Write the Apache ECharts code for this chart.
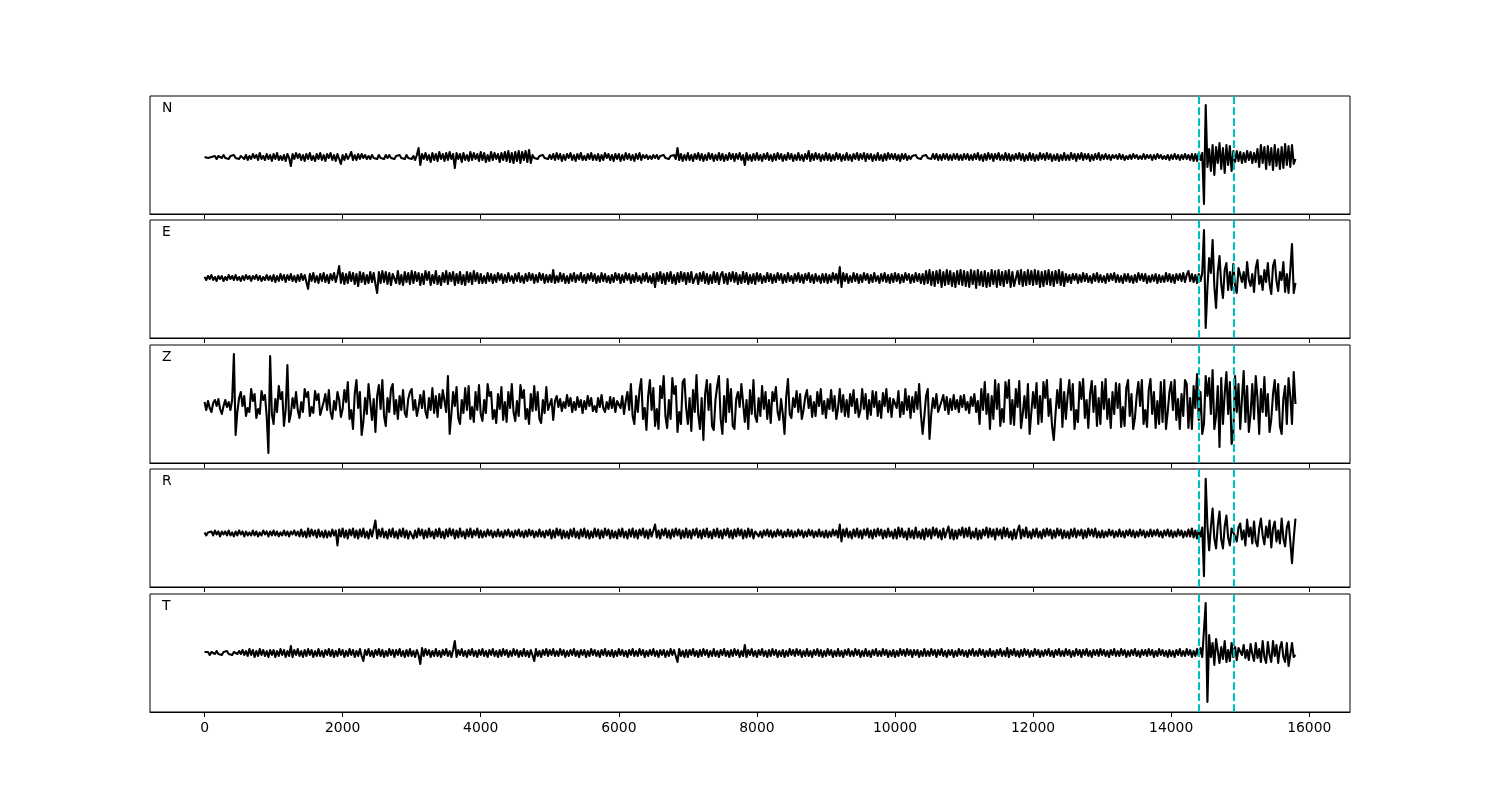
<!DOCTYPE html>
<html>
<head>
<meta charset="utf-8">
<script src="https://cdn.jsdelivr.net/npm/echarts@6/dist/echarts.min.js"></script>
<style>html,body{margin:0;padding:0;background:#fff}#c{width:1500px;height:800px}</style>
</head>
<body>
<div id="c"></div>
<script>
// sample spacing (x units) and tick labels
const step = 25;
const xTicks = [0, 2000, 4000, 6000, 8000, 10000, 12000, 14000, 16000];
const pickLines = [14400, 14900];
const channels = ['N', 'E', 'Z', 'R', 'T'];

// waveform amplitudes, one sample every 25 x-units (0..15800), one row per 1000 units
const traceN = [
0,1,-1,1,0,-1,1,-2,1,0,-1,2,-1,1,-2,1,-1,2,-1,1,-2,1,3,-2,2,-3,1,-2,3,-1,2,-3,4,-2,1,-3,3,-2,2,-4,
3,-2,4,-3,1,-3,2,-4,3,-1,-9,3,-2,4,-1,3,-3,2,-4,3,-2,4,-3,1,-4,3,-2,4,-3,2,-4,3,-1,4,-3,2,-4,3,-2,-7,
2,-3,3,-2,1,5,-3,2,-3,3,-2,3,-1,2,-2,1,-2,2,-1,1,-2,2,-1,1,-2,2,-1,2,-1,1,-2,1,-1,2,-1,1,-2,2,-1,1,
-2,1,-3,2,9,-8,3,-2,4,-3,2,-5,4,-3,3,-4,5,-2,3,-4,4,-3,5,-2,3,-11,4,-2,3,-5,4,-3,2,-4,5,-3,4,-2,3,-4,
5,-3,4,-5,2,-4,5,-3,4,-2,3,-5,4,-3,5,-4,6,-5,4,-6,5,-4,6,-6,5,-3,6,-5,7,-6,2,-1,1,-2,1,-1,2,-1,1,-2,
2,-2,3,-3,4,-2,3,-4,2,-3,3,-1,4,-3,2,-4,3,-2,4,-3,1,-3,3,-2,4,-3,2,-3,3,-4,2,-3,4,-1,3,-3,2,-4,3,-2,
3,-4,2,-3,4,-2,3,-3,2,-4,3,-2,4,-3,2,-1,2,-2,1,-2,2,-1,2,-2,1,-1,2,-1,1,-2,1,-1,2,-2,9,-3,3,-4,2,-3,
4,-3,2,-4,3,-2,4,-3,3,-4,2,-3,4,-2,3,-4,2,-3,4,-3,3,-4,2,-3,4,-2,3,-4,3,-2,4,-3,2,-8,4,-3,2,-4,3,-3,
4,-3,2,-4,3,-2,4,-3,2,-4,3,-3,4,-2,3,-4,2,-3,4,-2,3,-4,2,-3,4,-3,2,-4,3,-2,6,-4,3,-3,4,-2,3,-4,2,-3,
4,-3,3,-4,2,-3,4,-2,3,-4,2,-3,4,-3,2,-4,3,-2,4,-3,3,-2,4,-4,3,-2,3,-4,2,-3,4,-3,2,-4,3,-3,4,-2,3,-2,
3,-3,2,-4,3,-2,3,-3,1,-2,1,-1,2,-1,1,-2,1,-1,2,-1,1,-2,3,-2,3,-3,2,-3,3,-2,3,-3,2,-3,3,-2,3,-3,2,-3,
3,-2,3,-3,2,-3,3,-2,4,-3,2,-4,3,-3,4,-2,3,-4,3,-2,4,-3,2,-3,4,-3,3,-4,2,-3,3,-2,4,-3,3,-4,2,-3,4,-3,
3,-4,2,-3,4,-2,3,-3,4,-2,3,-4,2,-3,3,-4,2,-3,4,-3,2,-3,4,-2,3,-4,3,-2,4,-3,3,-2,3,-4,2,-3,3,-2,4,-3,
2,-2,3,-2,2,-3,2,-1,2,-2,3,-2,2,-3,1,-2,2,-2,3,-1,2,-2,1,-2,3,-2,2,-1,2,-3,2,-2,3,-1,2,-2,1,-2,2,-3,
2,-2,3,-2,2,-3,2,-2,3,-2,2,-3,3,-4,3,-4,4,-3,4,-47,52,-10,8,-14,12,-18,10,-6,14,-12,9,-16,12,-8,11,-14,6,-5,6,-4,
5,-6,4,-5,6,-3,5,-6,4,-5,8,-10,12,-6,10,-12,11,-8,9,-13,12,-9,8,-12,10,-11,13,-8,11,-10,12,-7,-2
];
const traceE = [
1,-2,2,-1,3,-2,1,-3,2,-1,2,-3,1,-2,3,-1,2,-2,3,-2,1,-3,2,-2,3,-1,2,-3,2,-1,3,-2,2,-3,1,-2,3,-2,2,-3,
3,-4,2,-3,4,-2,3,-4,3,-2,4,-3,2,-4,3,-3,4,-2,3,-4,-11,4,-3,5,-4,2,-5,4,-3,5,-4,3,-5,4,-2,5,-4,3,12,-5,
5,-6,4,-5,6,-3,5,-6,4,-8,6,-4,5,-6,3,-5,6,-4,5,-6,-15,6,-5,7,-4,6,-6,5,-7,4,6,-5,7,-6,3,-7,6,-4,5,-6,
7,-5,6,-3,5,-7,4,-6,7,-2,6,-7,3,-5,7,-6,2,-7,5,-4,7,-6,5,-3,6,-7,4,-5,6,-6,3,-7,6,-4,5,-6,7,-3,5,-5,
4,-5,2,-5,5,-3,4,-5,3,-4,5,-2,4,-5,3,-4,5,-3,2,-5,4,-3,5,-4,2,-5,4,-3,5,-2,4,-5,3,-4,5,-2,4,-5,3,-4,
3,-4,8,-5,2,-4,5,-3,4,-5,2,-5,4,-3,5,-4,3,-2,5,-4,3,-5,4,-2,5,-3,4,-5,2,-4,5,-3,4,-4,2,-5,3,-4,5,-2,
4,-5,3,-4,5,-2,4,-5,3,-4,5,-3,2,-5,4,-3,5,-4,2,-5,4,-9,5,-3,6,-5,4,-6,5,-3,6,-5,3,-6,5,-4,6,-3,5,-6,
5,-4,6,-5,-7,4,-6,5,-3,6,-5,4,-6,3,-5,6,-4,5,-6,3,6,-5,4,-6,5,-3,6,-4,5,-6,3,-5,6,-4,5,-6,3,-5,4,-6,
5,-3,4,-5,2,-4,5,-3,4,-5,3,-4,5,-2,4,-5,3,-4,5,-3,2,-5,4,-3,5,-4,3,-5,4,-2,5,-4,3,-5,4,-3,2,-5,4,-4,
4,-5,3,-4,5,-2,4,-5,11,-9,5,-3,4,-5,2,-4,5,-3,4,-5,3,-4,5,-2,4,-5,3,-4,5,-3,2,-5,4,-3,5,-4,3,-5,4,-4,
5,-3,4,-5,3,-4,5,-2,4,-5,3,-4,5,-3,4,-5,4,-6,7,-5,8,-7,6,-8,7,-5,8,-9,6,-7,8,-6,7,-8,5,-9,7,-6,8,-7,
7,-8,6,-9,8,-6,7,-10,8,-7,6,-8,7,-9,5,-8,8,-6,7,-9,8,-7,6,-8,7,-5,8,-9,6,-8,-9,7,-6,8,-8,6,-7,8,-6,7,
-7,8,-6,7,-9,6,-8,7,-6,8,-7,6,-8,7,-5,8,-7,6,-8,4,-4,3,-5,4,-2,4,-5,3,-4,5,-3,4,-4,2,-5,4,-3,5,-4,3,
-4,2,-5,4,-3,4,-2,5,-4,3,-4,2,-5,4,-3,4,-4,2,-5,3,-4,5,-2,4,-3,4,-5,2,-4,3,-3,4,-5,3,-4,2,-4,5,-3,4,
-4,3,-5,4,-2,4,-3,5,-4,3,7,-3,4,-4,3,-5,4,-3,5,48,-50,-10,20,5,38,-8,-30,6,22,-6,-20,8,15,-12,6,-12,14,-8,-15,10,
12,-4,6,-10,16,-2,-8,4,-14,10,18,-6,2,-12,8,-4,15,-6,-16,12,18,-3,-13,6,-2,16,-14,4,-15,8,34,-15,-5
];
const traceZ = [
2,-6,3,-4,-8,1,4,-2,5,-5,-10,-2,4,-3,2,-6,4,50,-31,-8,6,12,-2,8,-12,-4,-8,15,3,10,-14,-5,-10,13,4,9,-12,-49,48,-10,
-20,5,-8,18,5,12,-22,-6,39,-18,-10,6,-4,12,-6,-14,2,-8,15,7,12,-12,-3,-9,13,4,10,-11,-13,2,10,-6,14,-8,-15,3,-6,12,4,-13,
-5,14,2,22,-15,-6,-25,10,24,-4,12,-31,-18,6,-10,20,22,-16,5,-28,8,19,-5,24,-12,-22,6,-8,15,20,-10,4,-15,8,-6,14,-9,-13,5,12,
15,-6,4,-12,-3,9,-4,13,-8,-14,6,-6,16,-9,8,-13,10,-4,14,3,-8,28,-30,-10,12,-2,17,-14,-20,4,-9,16,-6,18,-15,-3,-18,12,-6,19,
-10,-17,4,-9,20,8,12,-15,-6,-19,10,-5,17,-16,2,-18,12,-4,20,-8,-17,3,-12,19,6,14,-15,-5,-20,10,-7,18,-6,12,-15,-19,4,-9,17,-6,
-8,5,-16,3,8,-3,5,-7,2,-4,9,-2,6,-8,2,-6,7,-3,4,-9,3,-5,8,-2,6,-7,-2,-8,6,-3,9,-4,-8,2,-5,7,-4,6,-8,3,
5,-4,8,-10,3,12,-6,20,-12,-20,8,-8,14,25,-15,-4,-26,8,24,-6,16,-22,-5,-25,18,6,28,-12,-24,4,-15,26,10,18,-28,-8,-20,22,25,-4,
-20,6,-27,14,-8,29,-10,-25,6,-36,10,24,-6,20,-22,-26,4,18,28,-15,-30,8,-18,25,-8,15,-22,-25,5,12,-3,20,22,-18,4,-25,14,-10,24,-12,
-18,6,-12,18,-5,12,-15,4,-19,12,3,17,-8,-16,5,-10,-30,8,25,-10,-14,6,-3,13,-8,10,-15,-6,7,14,-4,8,-13,2,-12,12,-2,15,-10,3,
-14,5,-5,14,-7,8,-15,-4,15,-8,9,-12,4,-13,10,-2,14,-9,5,-13,-6,15,-5,10,-15,4,-11,13,-3,12,-12,3,-14,11,-2,15,-8,6,-13,5,
6,-4,13,-13,2,-10,15,-6,8,-14,7,-8,12,-5,20,-10,-30,-12,8,15,-35,-10,6,-4,10,-8,-9,3,9,-6,7,-10,5,-6,9,-5,4,-8,8,-3,
9,-6,2,-9,7,-2,10,-8,3,-20,15,-6,22,-10,10,-25,8,-15,24,-5,20,-22,-5,-18,22,6,24,-20,4,-21,15,-3,23,-24,-10,8,-14,20,-30,-8,
12,-4,21,-20,8,-18,22,6,24,-12,5,-22,-36,-10,14,-4,25,-23,12,-15,8,24,-6,20,-25,-6,-18,22,5,25,-14,4,-24,10,23,-8,18,-22,6,-20,
22,-5,25,-15,5,-24,12,-10,21,-4,20,-23,-3,-22,16,24,-12,10,-25,-14,8,22,-2,24,-20,-6,-23,14,25,-10,12,-24,3,-20,22,-18,24,-25,-8,12,
22,-6,24,-16,5,-25,10,-12,24,20,-24,6,-25,18,-4,30,-16,12,-30,-20,28,8,26,-10,34,-25,-12,18,-43,26,-20,10,32,-10,22,-40,-30,28,-8,20,
-25,5,33,-18,18,-28,-10,20,-15,28,6,-30,15,-8,27,-12,10,-28,-15,10,24,-6,20,-22,-30,5,18,-20,26,8,-20,32,0
];
const traceR = [
1,-2,1,-1,2,-2,3,-1,2,-3,2,-1,2,-2,3,-2,1,-3,2,-2,3,-1,2,-3,2,-2,1,-2,3,-2,2,-3,1,-2,3,-1,2,-3,2,-2,
3,-2,2,-3,1,-2,3,-2,2,-3,2,-1,3,-2,2,-3,4,-3,2,-4,5,-3,4,-2,3,-4,4,-3,2,-4,3,-4,2,-3,4,-2,3,-12,4,-3,
5,-4,3,-5,4,-2,5,-4,3,-5,4,-3,5,-4,2,-5,4,-3,5,13,-5,4,-3,5,-4,2,-5,4,-3,5,-4,2,-5,4,-3,5,-4,3,-5,2,
4,-5,3,-4,5,-2,4,-5,3,-4,5,-3,2,-5,4,-3,5,-4,2,-5,4,-3,5,-2,4,-5,3,-4,5,-3,2,-5,4,-3,5,-4,3,-2,5,-4,
3,-4,2,-3,4,-2,3,-4,2,-3,4,-3,2,-4,3,-2,4,-3,2,-4,3,-2,4,-3,2,-4,3,-3,4,-2,3,-4,2,-3,4,-3,2,-4,3,-2,
4,-5,3,-4,5,-2,4,-5,3,-4,2,-5,4,-3,5,-4,2,-5,4,-3,5,-4,3,-5,2,-4,5,-3,4,-5,3,-4,5,-2,4,-5,3,-4,2,-5,
4,-3,5,-4,2,-5,4,-3,5,-4,3,-5,4,-2,5,-4,3,-5,4,-3,-5,9,-4,3,-5,4,-2,5,-4,3,-5,4,-3,5,-2,4,-5,3,-4,5,
-4,3,-5,4,-2,5,-4,3,-5,4,-3,5,-4,2,-5,4,-3,5,-4,3,-5,4,-2,5,-4,3,-5,4,-3,5,-2,4,-5,3,-4,5,-3,4,-5,2,
4,-3,2,-4,3,-2,4,-3,3,-4,2,-3,4,-2,3,-4,2,-3,4,-3,3,-4,2,-3,4,-2,3,-4,2,-3,4,-2,3,-4,2,-3,4,-3,2,-4,
3,-4,2,-3,4,-2,3,-4,9,-8,4,-3,5,-4,2,-5,4,-3,5,-4,3,-5,4,-2,5,-4,3,-5,4,-3,5,-2,4,-5,3,-4,5,-3,2,-5,
4,-5,6,-3,5,-4,2,-6,5,-4,3,-5,6,-4,2,-5,4,-6,5,-3,4,-5,6,-2,5,-4,3,-6,5,-4,2,7,-5,4,-6,3,-5,4,-2,6,
-4,5,-3,6,-5,2,-4,5,-6,3,-5,4,-2,6,-4,5,-3,4,-6,5,-2,4,-5,6,-3,5,-4,2,-6,4,-5,3,8,-5,4,-3,6,-4,2,-5,
4,-3,5,-4,2,-5,4,-3,5,-2,4,-5,3,-4,5,-2,4,-5,3,-4,2,-5,4,-3,5,-4,3,-2,4,-5,3,-4,5,-2,4,-3,5,-4,2,-4,
3,-4,2,-3,4,-2,3,-4,2,-3,4,-3,2,-4,3,-2,4,-3,3,-4,2,-3,4,-2,3,-4,2,-3,4,-3,3,-2,4,-3,2,-4,3,-2,4,-3,
3,-4,2,-3,4,-2,3,-4,2,-3,4,-3,5,-4,3,-5,4,-3,6,-43,55,8,-17,6,25,-5,-15,8,22,-6,-15,7,18,-4,-12,5,6,-3,-8,6,
10,-6,3,-12,14,-3,6,-10,12,-8,-13,5,15,-2,-11,7,-4,13,-14,5,12,-8,3,-10,15,-5,-13,6,12,-8,-30,-5,15
];
const traceT = [
1,-1,1,-2,1,0,-1,2,-1,1,-2,1,-1,2,-1,1,-2,1,0,-1,2,-1,3,-2,2,-3,4,-2,3,-4,2,-3,4,-2,3,-3,2,-4,3,-2,
3,-4,2,-3,4,-2,3,-4,2,-3,7,-4,3,-2,4,-3,2,-4,3,-3,4,-2,3,-4,2,-3,4,-3,2,-4,3,-2,4,-3,3,-4,2,-3,4,-2,
3,-4,2,-3,4,-2,3,-4,2,-3,4,-3,-8,3,-2,4,-3,2,-4,3,-2,4,-3,3,-4,2,-3,4,-2,3,-4,3,-2,4,-3,2,-4,3,-3,4,
-3,2,-4,3,-2,-11,5,-3,4,-2,3,-4,2,-3,4,-3,2,-4,3,-2,4,-3,2,-4,3,12,-4,3,-2,4,-3,2,-4,3,-2,4,-3,2,-4,3,
-2,4,-3,2,-4,3,-2,4,-3,2,-4,3,-3,4,-2,3,-4,2,-3,4,-2,3,-4,2,-3,4,-3,2,-4,3,-2,-8,4,-3,2,-4,3,-2,4,-3,
3,-2,4,-3,2,-3,4,-2,3,-4,2,-3,3,-2,4,-3,2,-4,3,-2,3,-4,2,-3,4,-2,3,-3,2,-4,3,-2,4,-3,2,-3,3,-4,2,-3,
4,-2,3,-3,2,-4,3,-2,4,-3,2,-3,4,-2,3,-4,2,-3,3,-2,4,-3,2,-4,3,-2,3,-4,2,-3,4,-2,3,-3,-9,4,-3,2,-4,3,
-4,3,-2,4,-3,2,-4,3,-3,4,-2,3,-4,2,-3,4,-3,2,-4,3,-2,4,-3,2,-4,3,-3,4,-2,3,-4,2,-3,8,-4,3,-2,4,-3,2,
-4,3,-2,4,-3,2,-4,3,-3,4,-2,3,-4,2,-3,3,-4,2,-3,4,-2,3,-3,4,-2,3,-4,2,-3,4,-3,2,-4,3,-2,4,-3,3,-4,2,
-3,4,-2,3,-4,2,-3,4,-3,2,-4,3,-2,4,-3,2,-3,4,-2,3,-4,2,-3,4,-3,2,-4,3,-2,4,-3,2,-3,4,-2,3,-4,2,-3,3,
-4,2,-3,4,-2,3,-3,4,-2,3,-4,3,-2,3,-4,2,-3,4,-3,2,-3,4,-2,3,-4,3,-2,4,-3,2,-4,3,-2,3,-4,2,-3,4,-2,3,
-3,2,-4,3,-2,4,-3,2,-3,4,-2,3,-4,2,-3,4,-3,2,-4,3,-2,4,-3,2,-3,5,-4,3,-2,4,-3,2,-4,3,-3,4,-2,3,-4,2,
-3,4,-2,3,-4,2,-3,3,-2,4,-3,2,-4,3,-2,4,-3,2,-3,4,-2,3,-4,2,-3,4,-2,3,-4,3,-2,4,-3,2,-4,3,-2,3,-3,4,
-2,3,-3,2,-4,3,-2,4,-3,2,-3,4,-2,3,-4,2,-3,3,-2,4,-3,2,-4,3,-2,3,-3,4,-2,3,-4,2,-3,4,-2,3,-3,2,-4,3,
-3,2,-4,3,-2,4,-3,2,-3,4,-2,3,-4,2,-3,4,-3,5,-4,-6,50,-49,18,-4,10,-12,14,2,-10,6,-6,12,-9,3,-8,10,-4,6,-7,5,
6,-2,8,-5,3,-7,9,-1,-8,10,-5,4,-9,12,-4,-10,11,-2,-9,12,-3,8,-10,5,11,-4,-9,10,-13,-2,10,-4,-2
];
const traces = [traceN, traceE, traceZ, traceR, traceT];
// vertical extent of each panel in amplitude units [min, max]
const yRanges = [[-57, 61], [-60, 58], [-59, 59], [-54, 65], [-59, 59]];

const panelTops = [96, 220, 345, 469, 594];
const panelH = 118;
const xMin = -790, xMax = 16590;

const grid = [], xAxis = [], yAxis = [], series = [], graphic = [];
panelTops.forEach((top, k) => {
  grid.push({left: 150, width: 1200, top: top, height: panelH, show: true,
    borderColor: '#000', borderWidth: 1, backgroundColor: 'transparent', containLabel: false});
  const last = k === panelTops.length - 1;
  xAxis.push({type: 'value', gridIndex: k, min: xMin, max: xMax,
    axisLine: {show: true, onZero: false, lineStyle: {color: '#000', width: 1}},
    axisTick: {show: true, length: 5, lineStyle: {color: '#000', width: 1}, customValues: xTicks},
    axisLabel: {show: last, customValues: xTicks, color: '#000', fontSize: 13.9,
      fontFamily: 'DejaVu Sans', margin: 9, formatter: v => String(v)},
    splitLine: {show: false}});
  yAxis.push({type: 'value', gridIndex: k, min: yRanges[k][0], max: yRanges[k][1],
    axisLine: {show: false}, axisTick: {show: false}, axisLabel: {show: false},
    splitLine: {show: false}});
  series.push({type: 'line', xAxisIndex: k, yAxisIndex: k,
    data: traces[k].map((v, i) => [i * step, v]),
    showSymbol: false, symbol: 'none', sampling: false, animation: false, silent: true,
    lineStyle: {color: '#000', width: 2.1, join: 'round'},
    markLine: {silent: true, symbol: ['none', 'none'], animation: false,
      label: {show: false},
      lineStyle: {color: '#00bfbf', width: 2.1, type: [7.7, 3.3]},
      data: pickLines.map(x => ({xAxis: x}))}});
  graphic.push({type: 'text', left: 162, top: top + 5,
    style: {text: channels[k], fill: '#000', font: '13.9px "DejaVu Sans"'}});
});

const chart = echarts.init(document.getElementById('c'), null, {renderer: 'canvas'});
chart.setOption({animation: false, backgroundColor: '#fff', grid, xAxis, yAxis, series, graphic});
</script>
</body>
</html>
